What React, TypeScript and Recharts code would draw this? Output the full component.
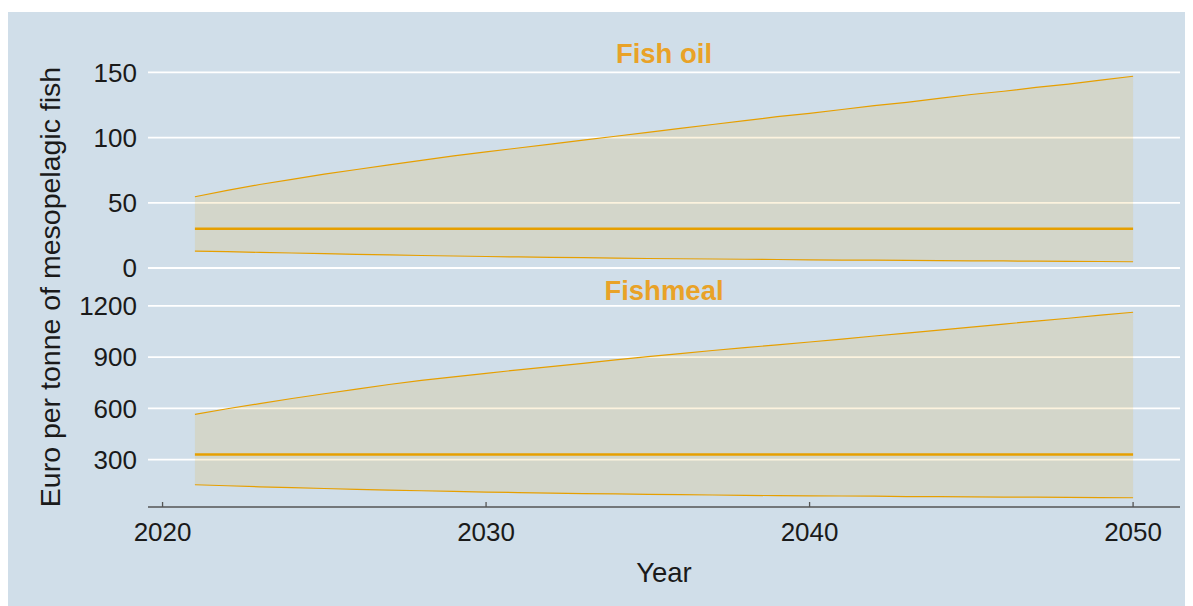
import { ComposedChart, Area, Line, XAxis, YAxis, CartesianGrid } from "recharts";

const years = [
  2021, 2022, 2023, 2024, 2025, 2026, 2027, 2028, 2029, 2030,
  2031, 2032, 2033, 2034, 2035, 2036, 2037, 2038, 2039, 2040,
  2041, 2042, 2043, 2044, 2045, 2046, 2047, 2048, 2049, 2050,
];

// Fish oil (euro per tonne)
const oilLow = [
  13, 12.5, 12, 11.5, 11, 10.5, 10, 9.6, 9.2, 8.8,
  8.5, 8.2, 7.9, 7.6, 7.3, 7.1, 6.9, 6.7, 6.5, 6.3,
  6.1, 6.0, 5.8, 5.7, 5.5, 5.4, 5.2, 5.1, 5.0, 4.8,
];
const oilHigh = [
  54.6, 59.5, 64, 68, 72, 75.5, 79, 82.5, 86, 89,
  92, 95, 98, 101, 104, 107, 110, 113, 116, 118.5,
  121.5, 124.5, 127, 130, 133, 135.5, 138.5, 141, 144, 147,
];
const oilMid = 30;

// Fishmeal (euro per tonne)
const mealLow = [
  153, 147, 141, 136, 131, 126, 122, 118, 114, 110,
  107, 104, 101, 99, 97, 95, 93, 91, 89, 88,
  87, 86, 84, 83, 82, 81, 80, 79, 78, 77,
];
const mealHigh = [
  565, 598, 628, 658, 686, 713, 740, 764, 785, 805,
  826, 845, 864, 884, 903, 921, 939, 956, 972, 989,
  1006, 1024, 1041, 1059, 1076, 1094, 1111, 1128, 1146, 1163,
];
const mealMid = 330;

const yearTicks = [2020, 2030, 2040, 2050];
const oilTicks = [0, 50, 100, 150];
const mealTicks = [300, 600, 900, 1200];

const data = years.map((year, i) => ({
  year,
  oilRange: [oilLow[i], oilHigh[i]],
  oilLow: oilLow[i],
  oilHigh: oilHigh[i],
  oilMid,
  mealRange: [mealLow[i], mealHigh[i]],
  mealLow: mealLow[i],
  mealHigh: mealHigh[i],
  mealMid,
}));

const ORANGE = "#E69F00";
const BG = "#d0dee9";
const FONT = "'Liberation Sans', Arial, sans-serif";
const W = 1186;

const XTick = (props: any) => {
  const { x, y, payload } = props;
  return (
    <g>
      <line x1={x} x2={x} y1={y - 5} y2={y} stroke="#555" strokeWidth={1.3} />
      <text x={x} y={y + 27} textAnchor="middle" dominantBaseline="middle" fontSize={26} fill="#1a1a1a" fontFamily={FONT}>
        {payload.value}
      </text>
    </g>
  );
};

const tickStyle = { fontSize: 26, fill: "#1a1a1a", fontFamily: FONT };

const Panel = ({ prefix, domain, ticks, showX, height, margin }: any) => (
  <ComposedChart width={W} height={height} data={data} margin={margin} style={{ overflow: "visible" }}>
    <CartesianGrid vertical={false} stroke="#ffffff" strokeWidth={1.8} syncWithTicks />
    <XAxis
      dataKey="year"
      type="number"
      domain={[2019.55, 2051.45]}
      ticks={yearTicks}
      interval={0}
      hide={!showX}
      axisLine={{ stroke: "#555", strokeWidth: 1.5 }}
      tickLine={false}
      tickSize={0}
      tickMargin={0}
      tick={<XTick />}
      height={60}
      allowDataOverflow
    />
    <YAxis
      domain={domain}
      ticks={ticks}
      interval={0}
      width={141}
      axisLine={false}
      tickLine={false}
      tickSize={0}
      tickMargin={11}
      tick={tickStyle}
      allowDataOverflow
    />
    <Area
      dataKey={`${prefix}Range`}
      type="linear"
      fill={ORANGE}
      fillOpacity={0.13}
      stroke="none"
      isAnimationActive={false}
    />
    <Line dataKey={`${prefix}High`} type="linear" stroke={ORANGE} strokeWidth={1.2} dot={false} isAnimationActive={false} />
    <Line dataKey={`${prefix}Low`} type="linear" stroke={ORANGE} strokeWidth={1.2} dot={false} isAnimationActive={false} />
    <Line dataKey={`${prefix}Mid`} type="linear" stroke={ORANGE} strokeWidth={2.5} dot={false} isAnimationActive={false} />
  </ComposedChart>
);

const stripStyle: any = {
  position: "absolute",
  left: 141,
  width: 1032,
  textAlign: "center",
  color: "#e9a227",
  fontWeight: "bold",
  fontSize: 27.5,
  lineHeight: "32px",
};

const App = () => {
  return (
    <div
      style={{
        position: "relative",
        width: W,
        height: 594,
        marginLeft: -1,
        marginTop: 4,
        background: BG,
        fontFamily: FONT,
        overflow: "hidden",
      }}
    >
      <div style={{ position: "absolute", left: 0, top: 261 }}>
        <Panel
          prefix="meal"
          domain={[22.7, 1217.3]}
          ticks={mealTicks}
          showX={true}
          height={294}
          margin={{ top: 30, right: 13, bottom: 0, left: 0 }}
        />
      </div>
      <div style={{ position: "absolute", left: 0, top: 0 }}>
        <Panel
          prefix="oil"
          domain={[-2.3, 154.1]}
          ticks={oilTicks}
          showX={false}
          height={281}
          margin={{ top: 55, right: 13, bottom: 22, left: 0 }}
        />
      </div>
      <div style={{ ...stripStyle, top: 26 }}>Fish oil</div>
      <div style={{ ...stripStyle, top: 263 }}>Fishmeal</div>
      <div
        style={{
          position: "absolute",
          left: 141,
          width: 1032,
          top: 545,
          textAlign: "center",
          color: "#1a1a1a",
          fontSize: 27.5,
          lineHeight: "32px",
        }}
      >
        Year
      </div>
      <div
        style={{
          position: "absolute",
          left: 43,
          top: 275,
          transform: "translate(-50%, -50%) rotate(-90deg)",
          whiteSpace: "nowrap",
          color: "#1a1a1a",
          fontSize: 28.5,
          lineHeight: "32px",
        }}
      >
        Euro per tonne of mesopelagic fish
      </div>
    </div>
  );
};

export default App;
